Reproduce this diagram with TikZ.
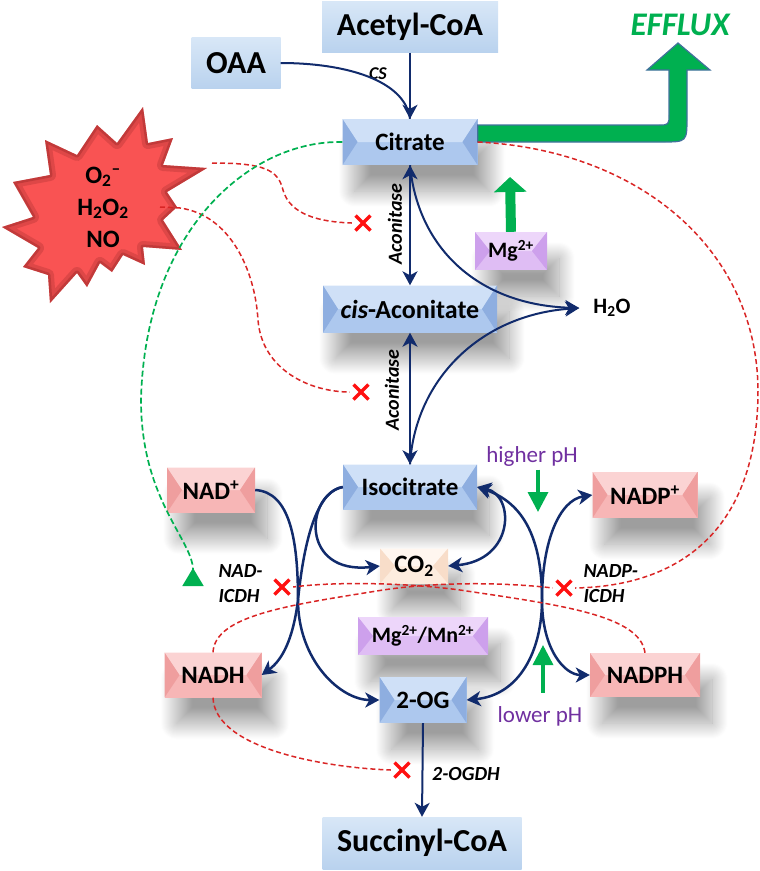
\documentclass[tikz,border=0pt]{standalone}
\usepackage{fontspec}
\setmainfont{Carlito}
\usetikzlibrary{arrows.meta,shadows.blur}

\definecolor{pathblue}{HTML}{112B6C}
\definecolor{effgreen}{HTML}{00B050}
\definecolor{effline}{HTML}{41719C}
\definecolor{inhred}{HTML}{D92525}
\definecolor{xred}{HTML}{FF1010}
\definecolor{phpurple}{HTML}{7030A0}
\definecolor{starfill}{HTML}{F95353}
\definecolor{staredge}{HTML}{8E2424}
\definecolor{flA}{HTML}{D8E7F7}
\definecolor{flB}{HTML}{B9D2EE}
\definecolor{blA}{HTML}{CFE0F7}
\definecolor{blB}{HTML}{ADC8EE}
\definecolor{blC}{HTML}{8EAEE0}
\definecolor{pkA}{HTML}{FBD3D3}
\definecolor{pkB}{HTML}{F7B6B6}
\definecolor{pkC}{HTML}{EF9E9E}
\definecolor{ppA}{HTML}{EDD6FA}
\definecolor{ppB}{HTML}{DFBDF4}
\definecolor{ppC}{HTML}{CDA0EC}
\definecolor{peA}{HTML}{FFF6EF}
\definecolor{peB}{HTML}{FDECDE}
\definecolor{peC}{HTML}{F8DDC9}

\newcommand\rospath{(143,107) -- (148,143) -- (173,138) -- (163,165) -- (207,168) -- (167,192)
  -- (177,207) -- (163,220) -- (182,250) -- (143,247) -- (145,265) -- (123,255) -- (112,272) -- (100,263) -- (87,287)
  -- (77,273) -- (50,303) -- (48,275) -- (23,267) -- (38,248) -- (2,227) -- (33,217) -- (13,182) -- (50,175)
  -- (45,140) -- (77,155) -- (97,125) -- (117,143) -- cycle}

\tikzset{
  boxshadow/.style={blur shadow={shadow xshift=12pt, shadow yshift=-26pt, shadow blur radius=16pt, shadow blur steps=32, shadow opacity=38}},
  bevel/.style n args={3}{rectangle, inner sep=0pt, fill=#2, boxshadow,
    path picture={
      \fill[#1] (path picture bounding box.north west) -- (path picture bounding box.north east)
        -- ([xshift=-15pt]path picture bounding box.east) -- ([xshift=15pt]path picture bounding box.west) -- cycle;
      \fill[#3] (path picture bounding box.north west) -- (path picture bounding box.south west)
        -- ([xshift=15pt]path picture bounding box.west) -- cycle;
      \fill[#3] (path picture bounding box.north east) -- (path picture bounding box.south east)
        -- ([xshift=-15pt]path picture bounding box.east) -- cycle;}},
  bluebox/.style={bevel={blA}{blB}{blC}},
  pinkbox/.style={bevel={pkA}{pkB}{pkC}},
  ionbox/.style={bevel={ppA}{ppB}{ppC}},
  gasbox/.style={bevel={peA}{peB}{peC}},
  flatbox/.style={rectangle, inner sep=0pt, top color=flA, bottom color=flB},
  bigtxt/.style={font=\bfseries\fontsize{32}{34}\selectfont},
  boxtxt/.style={font=\bfseries\fontsize{25}{28}\selectfont},
  iontxt/.style={font=\bfseries\fontsize{22}{24}\selectfont},
  enztxt/.style={font=\bfseries\itshape\fontsize{20}{25}\selectfont},
  phtxt/.style={text=phpurple, font=\fontsize{23}{26}\selectfont},
  efftxt/.style={text=effgreen, font=\bfseries\itshape\fontsize{33}{36}\selectfont},
  flow/.style={draw=pathblue, line width=2.5pt, -{Stealth[length=14pt,width=15pt,inset=4pt]}},
  flowboth/.style={flow, {Stealth[length=14pt,width=15pt,inset=4pt]}-{Stealth[length=14pt,width=15pt,inset=4pt]}},
  straight/.style={flow, line width=2pt},
  straightboth/.style={flowboth, line width=2pt},
  inhib/.style={draw=inhred, line width=1.5pt, dash pattern=on 5pt off 3pt},
  activ/.style={draw=effgreen, line width=1.7pt, dash pattern=on 6pt off 3pt, -{Triangle[reversed,length=18pt,width=21pt]}},
  fatup/.style={draw=effgreen, line width=10pt, -{Triangle[length=15pt,width=32pt]}},
  phshift/.style={draw=effgreen, line width=3.5pt, -{Triangle[length=20pt,width=20pt]}},
  xmark/.style={minimum size=22pt, inner sep=0pt,
    path picture={\draw[xred, line width=3.5pt]
      ([shift={(-7.5pt,-7.5pt)}]path picture bounding box.center) -- ([shift={(7.5pt,7.5pt)}]path picture bounding box.center)
      ([shift={(-7.5pt,7.5pt)}]path picture bounding box.center) -- ([shift={(7.5pt,-7.5pt)}]path picture bounding box.center);}}
}

\begin{document}
\begin{tikzpicture}[x=1pt, y=-1pt]
\useasboundingbox (0,0) rectangle (760,871);

\fill[starfill] \rospath;
\begin{scope}
  \clip \rospath;
  \draw[staredge, line width=12pt, opacity=0.25, line join=round] \rospath;
  \draw[staredge, line width=5pt, opacity=0.35, line join=round] \rospath;
\end{scope}
\node[align=center, font=\bfseries\fontsize{25}{32}\selectfont] (ros) at (103,207)
  {O\textsubscript{2}\textsuperscript{\textendash}\\H\textsubscript{2}O\textsubscript{2}\\NO};

\node[flatbox, bigtxt, minimum width=176pt, minimum height=51pt] (acetyl) at (410,27) {Acetyl-CoA};
\node[flatbox, bigtxt, minimum width=89pt, minimum height=51pt] (oaa) at (236,63) {OAA};
\node[bluebox, boxtxt, minimum width=135pt, minimum height=46pt] (citrate) at (410,142) {Citrate};
\node[ionbox, iontxt, minimum width=72pt, minimum height=38pt] (mg) at (511,251) {Mg\textsuperscript{2+}};
\node[bluebox, boxtxt, minimum width=174pt, minimum height=47pt, font=\bfseries\fontsize{26}{28}\selectfont] (cisacon) at (410,309) {\textit{cis}-Aconitate};
\node[bluebox, boxtxt, minimum width=134pt, minimum height=45pt] (isocit) at (410,487) {Isocitrate};
\node[gasbox, boxtxt, minimum width=68pt, minimum height=35pt] (co2) at (414,566) {CO\textsubscript{2}};
\node[ionbox, iontxt, minimum width=130pt, minimum height=38pt] (mgmn) at (423,636) {Mg\textsuperscript{2+}/Mn\textsuperscript{2+}};
\node[bluebox, boxtxt, minimum width=87pt, minimum height=46pt] (og) at (423,700) {2-OG};
\node[flatbox, bigtxt, minimum width=199pt, minimum height=52pt] (succ) at (422,843) {Succinyl-CoA};
\node[pinkbox, boxtxt, minimum width=88pt, minimum height=45pt] (nad) at (211,490) {NAD\textsuperscript{+}};
\node[pinkbox, boxtxt, minimum width=97pt, minimum height=45pt] (nadh) at (213,675) {NADH};
\node[pinkbox, boxtxt, minimum width=105pt, minimum height=46pt] (nadp) at (645,495) {NADP\textsuperscript{+}};
\node[pinkbox, boxtxt, minimum width=110pt, minimum height=44pt] (nadph) at (645,675) {NADPH};

\node[font=\bfseries\fontsize{22}{24}\selectfont, inner xsep=14pt] (h2o) at (612,308) {H\textsubscript{2}O};
\node[efftxt] (efflux) at (680,25) {EFFLUX};
\node[phtxt] (hph) at (532,456) {higher pH};
\node[phtxt] (lph) at (540,716) {lower pH};

\node[enztxt, font=\bfseries\itshape\fontsize{18}{20}\selectfont] (cs) at (378,74) {CS};
\node[enztxt, rotate=90] (acon1) at (395,224) {Aconitase};
\node[enztxt, rotate=90] (acon2) at (392,390) {Aconitase};
\node[enztxt, align=left, anchor=west] (nadicdh) at (215,584) {NAD-\\ICDH};
\node[enztxt, align=left, anchor=west] (nadpicdh) at (580,584) {NADP-\\ICDH};
\node[enztxt] (ogdh) at (466,774) {2-OGDH};

\node[xmark] (x1) at (363,223) {};
\node[xmark] (x2) at (361,392) {};
\node[xmark] (x3) at (282,587) {};
\node[xmark] (x4) at (564,588) {};
\node[xmark] (x5) at (402,770) {};

\coordinate (rosA) at (212,163);
\coordinate (rosB) at (160,207);
\coordinate (mgtip) at (510,177);
\coordinate (hitip) at (538,512);
\coordinate (lotip) at (543,645);
\coordinate (actend) at (193,586);

\filldraw[fill=effgreen, draw=effline, line width=1.2pt] (citrate.east |- 0,125) -- (658,125) .. controls (669,125) .. (669,114)
  -- (669,70) -- (647,70) -- (678,43) -- (710,70) -- (687,70) -- (687,117) .. controls (687,142) .. (662,142)
  -- (citrate.east |- 0,142) -- cycle;
\draw[fatup] (mg.north) -- (mgtip);
\draw[phshift] ([xshift=6pt]hph.south) -- (hitip);
\draw[phshift] ([xshift=3pt,yshift=10pt]lph.north) -- (lotip);

\draw[straight] (acetyl.south) -- (citrate.north);
\draw[straight, -] (oaa.east) .. controls (345,63) and (405,80) .. (citrate.north);
\draw[straightboth] (citrate.south) -- (cisacon.north);
\draw[straightboth] (cisacon.south) -- (isocit.north);
\draw[straight] (citrate.south) .. controls (418,250) and (480,305) .. (h2o.west);
\draw[straight] (isocit.north) .. controls (415,380) and (480,315) .. (h2o.west);

\draw[flow] (nad.east) .. controls (290,492) and (298,540) .. (298,600) .. controls (298,660) and (340,700) .. (og.west);
\draw[flow] (isocit.west) .. controls (320,490) and (305,530) .. (298,600) .. controls (293,640) and (282,660) .. (nadh.east);
\draw[flow] (isocit.west) .. controls (305,495) and (300,575) .. (co2.west);
\draw[flowboth] (isocit.east) .. controls (515,495) and (515,560) .. (co2.east);
\draw[flowboth] (isocit.east) .. controls (530,505) and (542,550) .. (542,600) .. controls (542,650) and (565,675) .. (nadph.west);
\draw[flowboth] (og.east) .. controls (520,695) and (542,650) .. (542,600) .. controls (542,540) and (560,500) .. (nadp.west);
\draw[straight] (og.south) -- (succ.north);

\draw[inhib] (rosA) .. controls (265,163) and (278,170) .. (283,190) .. controls (290,215) and (320,222) .. (x1.west);
\draw[inhib] (rosB) -- (180,208) .. controls (230,215) and (255,270) .. (258,320) .. controls (262,370) and (310,392) .. (x2.west);
\draw[inhib] (citrate.east) .. controls (640,150) and (757,250) .. (758,390) .. controls (758,530) and (680,586) .. (x4.east);
\draw[inhib] (nadph.north) .. controls (640,615) and (560,605) .. (460,590) .. controls (400,582) and (330,582) .. (x3.east);
\draw[inhib] (nadh.north) .. controls (215,615) and (290,605) .. (383,590) .. controls (450,580) and (520,584) .. (x4.west);
\draw[inhib] (nadh.south) .. controls (215,750) and (330,768) .. (x5.west);
\draw[activ] (citrate.west) .. controls (250,140) and (145,230) .. (141,400) .. controls (141,500) and (193,540) .. (actend);
\end{tikzpicture}
\end{document}
